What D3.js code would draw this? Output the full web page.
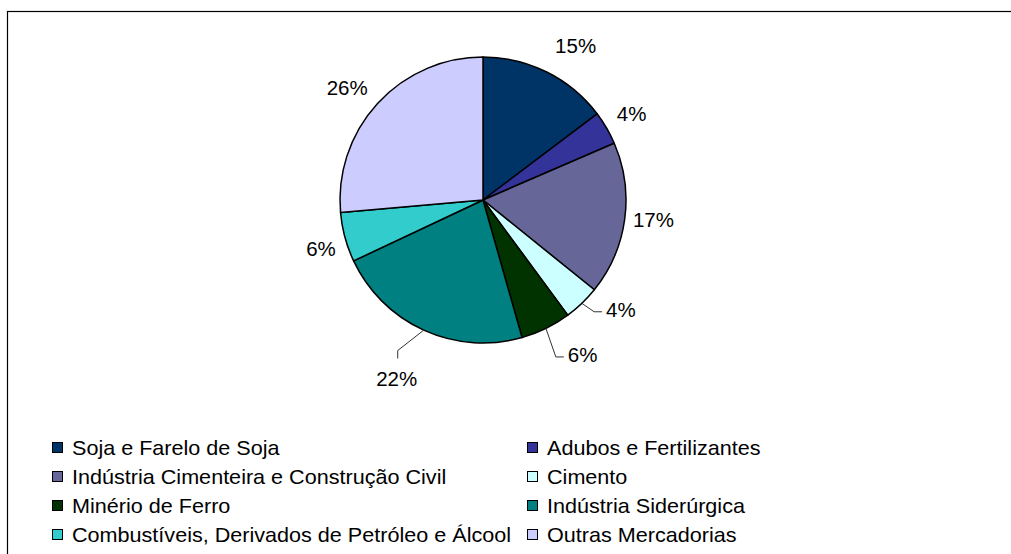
<!DOCTYPE html>
<html>
<head>
<meta charset="utf-8">
<script src="https://cdn.jsdelivr.net/npm/d3@7"></script>
<style>
	body { margin: 0; background: #fff; }
	text { font-family: "Liberation Sans", Arial, sans-serif; }
</style>
</head>
<body>
<div id="chart"></div>
<script>
const categories = [
	'Soja e Farelo de Soja', 'Adubos e Fertilizantes',
	'Indústria Cimenteira e Construção Civil', 'Cimento',
	'Minério de Ferro', 'Indústria Siderúrgica',
	'Combustíveis, Derivados de Petróleo e Álcool', 'Outras Mercadorias'
];
const values = [14.7, 3.8, 17.3, 4.1, 5.7, 22.4, 5.6, 26.4];
const colors = ['#003366', '#333399', '#666699', '#ccffff', '#003300', '#008080', '#33cccc', '#ccccff'];

// small pixel shifts off the label ring, like excel placed them
const labelNudge = { 0: [16, 0], 2: [0, -4], 3: [19, -15], 4: [24, 0], 5: [-15, 22], 6: [4, 4], 7: [-9, 4] };
// these ones get a leader line back to the slice
const leaderFor = [3, 4, 5];

const width = 1011, height = 554;
const cx = 483, cy = 200, radius = 143;

const svg = d3.select('#chart')
	.append('svg')
	.attr('width', width)
	.attr('height', height);

svg.append('rect')
	.attr('x', 7.5)
	.attr('y', 11.5)
	.attr('width', width + 20)
	.attr('height', height + 20)
	.attr('fill', 'none')
	.attr('stroke', '#000')
	.attr('stroke-width', 1.2);

const data = categories.map((label, i) => ({ label, value: values[i], color: colors[i], index: i }));

const pie = d3.pie().sort(null).value((d) => d.value);
const arcs = pie(data);
const total = d3.sum(values);

const arc = d3.arc().innerRadius(0).outerRadius(radius);
const edgeArc = d3.arc().innerRadius(radius).outerRadius(radius);
const labelArc = d3.arc().innerRadius(172).outerRadius(172);

const g = svg.append('g').attr('transform', `translate(${cx}, ${cy})`);

g.append('g').attr('class', 'slices')
	.selectAll('path')
	.data(arcs)
	.enter()
	.append('path')
	.attr('d', arc)
	.attr('fill', (d) => d.data.color)
	.attr('stroke', '#000')
	.attr('stroke-width', 1.5)
	.attr('stroke-linejoin', 'round');

const labels = g.append('g').attr('class', 'labels')
	.selectAll('text')
	.data(arcs)
	.enter()
	.append('text')
	.attr('x', (d) => labelArc.centroid(d)[0] + (labelNudge[d.data.index] || [0, 0])[0])
	.attr('y', (d) => labelArc.centroid(d)[1] + (labelNudge[d.data.index] || [0, 0])[1])
	.attr('dy', '0.36em')
	.attr('text-anchor', 'middle')
	.attr('font-size', '20.5px')
	.attr('fill', '#000')
	.text((d) => `${Math.round(d.value / total * 100)}%`);

// leader lines
labels.each(function (d) {
	if (!leaderFor.includes(d.data.index)) return;
	let nudge = labelNudge[d.data.index];
	let x = +this.getAttribute('x');
	let y = +this.getAttribute('y');
	let w = this.getComputedTextLength();
	let start = edgeArc.centroid(d);
	let end, elbow;
	if (Math.abs(nudge[0]) > Math.abs(nudge[1])) {
		end = [x - w / 2 - 4, y + 2.5];
		elbow = [end[0] - 8, end[1]];
	} else {
		end = [x + 1, y - 20];
		elbow = [end[0], end[1] - 8];
	}
	g.append('polyline')
		.attr('points', [start, elbow, end].map((p) => p.join(',')).join(' '))
		.attr('fill', 'none')
		.attr('stroke', '#333')
		.attr('stroke-width', 1);
});

// legend
const legendX = [52, 527];
const legendY = d3.scalePoint().domain(d3.range(4)).range([448, 535]);

const item = svg.append('g').attr('class', 'legend')
	.selectAll('g')
	.data(data)
	.enter()
	.append('g')
	.attr('transform', (d) => `translate(${legendX[d.index % 2]}, ${legendY(Math.floor(d.index / 2))})`);

item.append('rect')
	.attr('x', 0.5)
	.attr('y', -5.5)
	.attr('width', 10)
	.attr('height', 10)
	.attr('fill', (d) => d.color)
	.attr('stroke', '#000')
	.attr('stroke-width', 1);

// legend text in the reference runs a bit wider than plain arial
item.append('text')
	.attr('transform', 'translate(20, 0) scale(1.08, 1)')
	.attr('dy', '0.36em')
	.attr('font-size', '20px')
	.attr('fill', '#000')
	.text((d) => d.label);
</script>
</body>
</html>
